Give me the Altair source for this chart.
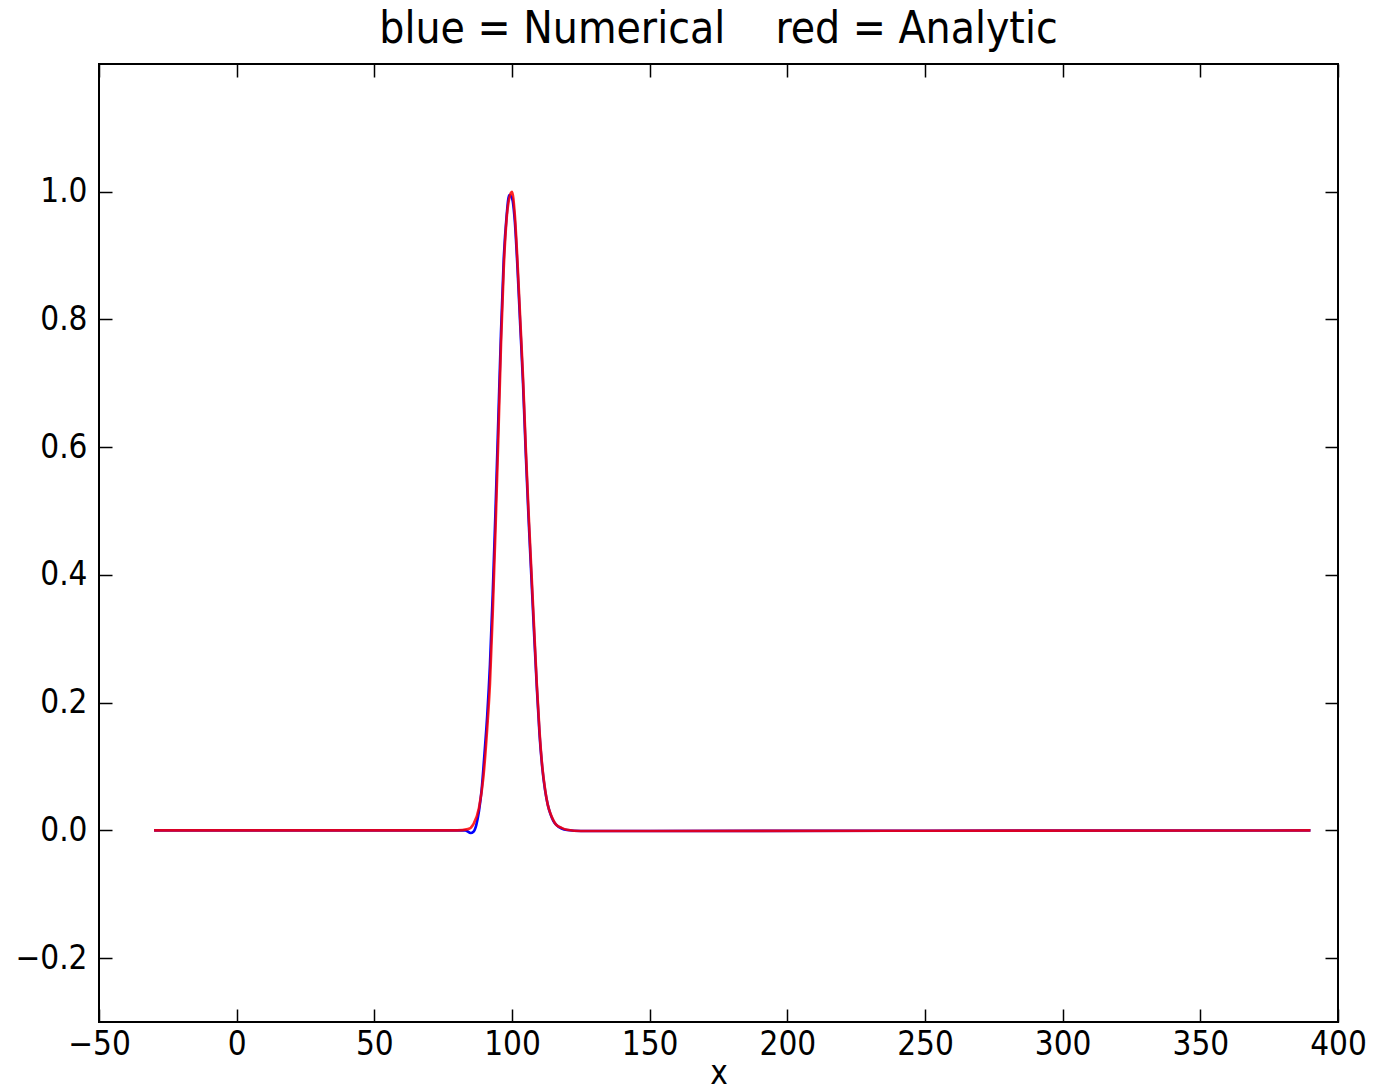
import altair as alt
import pandas as pd

# Numerical solution (blue)
x_num = [-30, 80, 83, 85, 86, 87, 88, 89, 90, 91, 92, 93, 94, 95, 96, 97, 98, 99, 100,
         101, 102, 103, 104, 105, 106, 107, 108, 109, 110, 111, 112, 113, 114, 115, 116,
         118, 120, 125, 150, 250, 390]
y_num = [0.0, 0.0, 0.0, -0.004, -0.002, 0.008, 0.03, 0.065, 0.12, 0.18, 0.26, 0.37, 0.50,
         0.64, 0.78, 0.895, 0.96, 0.995, 0.99, 0.955, 0.88, 0.79, 0.70, 0.59, 0.49, 0.40,
         0.31, 0.225, 0.15, 0.098, 0.063, 0.04, 0.025, 0.015, 0.009, 0.003, 0.0005, -0.001,
         -0.001, -0.0005, 0.0]

# Analytic solution (red)
x_ana = [-30, 80, 84, 86, 88, 89.6, 91, 92, 93, 94, 95, 96, 97, 98, 99, 100, 101, 102, 103,
         104, 105, 106, 107, 108, 109, 110, 111, 112, 113, 114, 115, 116, 118, 120, 125,
         150, 250, 390]
y_ana = [0.0, 0.0, 0.002, 0.01, 0.035, 0.083, 0.16, 0.23, 0.34, 0.47, 0.61, 0.76, 0.88,
         0.955, 0.99, 1.0, 0.965, 0.89, 0.80, 0.71, 0.60, 0.50, 0.41, 0.32, 0.23, 0.155,
         0.10, 0.065, 0.04, 0.026, 0.016, 0.009, 0.004, 0.001, -0.001, -0.001, -0.0005, 0.0]

x_ticks = [-50, 0, 50, 100, 150, 200, 250, 300, 350, 400]
y_ticks = [-0.2, 0.0, 0.2, 0.4, 0.6, 0.8, 1.0]

FONT = "DejaVu Sans Condensed, DejaVu Sans"
LBL = 33

df_num = pd.DataFrame({"x": x_num, "y": y_num})
df_ana = pd.DataFrame({"x": x_ana, "y": y_ana})

xs = alt.Scale(domain=[-50, 400], nice=False, zero=False)
ys = alt.Scale(domain=[-0.3, 1.2], nice=False, zero=False)

common = dict(tickSize=13, offset=-13, domain=False, grid=False, tickColor="black",
              tickWidth=1.5, labelColor="black", labelFont=FONT, labelFontSize=LBL)

blue = alt.Chart(df_num).mark_line(color="#0000ff", strokeWidth=2.6, interpolate="monotone",
                                   clip=True).encode(
    x=alt.X("x:Q", scale=xs,
            axis=alt.Axis(orient="bottom", values=x_ticks, title="x", labelPadding=6,
                          titleFont=FONT, titleFontSize=LBL, titleFontWeight="normal",
                          titleColor="black", titlePadding=-4, labelFlush=False, **common)),
    y=alt.Y("y:Q", scale=ys,
            axis=alt.Axis(orient="left", values=y_ticks, format=".1f", title=None,
                          labelPadding=12, **common)),
)

red = alt.Chart(df_ana).mark_line(color="#ff0000", strokeWidth=2.6, opacity=0.85,
                                  interpolate="monotone", clip=True).encode(
    x=alt.X("x:Q", scale=xs,
            axis=alt.Axis(orient="top", values=x_ticks, title=None, labels=False, **common)),
    y=alt.Y("y:Q", scale=ys,
            axis=alt.Axis(orient="right", values=y_ticks, title=None, labels=False, **common)),
)

chart = alt.layer(blue, red).resolve_axis(x="independent", y="independent").properties(
    width=1239,
    height=958,
    title=alt.TitleParams("blue = Numerical\u00a0\u00a0\u00a0\u00a0red = Analytic",
                          font=FONT, fontSize=44, fontWeight="normal", color="black",
                          anchor="middle", offset=11),
    padding={"left": 99, "top": 64, "right": 37, "bottom": 68},
    autosize=alt.AutoSizeParams(type="none"),
    background="white",
).configure_view(stroke="black", strokeWidth=2)

chart.save("out.html", embed_options={"renderer": "svg", "actions": False})
